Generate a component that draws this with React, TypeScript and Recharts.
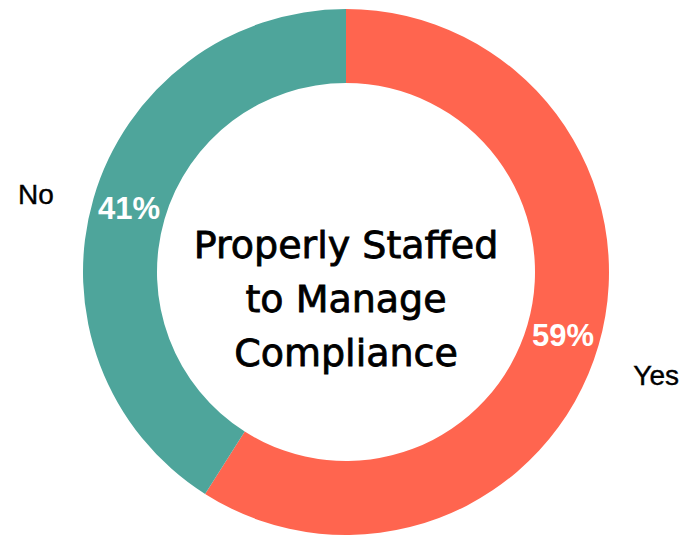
import React from 'react';
import { PieChart, Pie, Cell, Label } from 'recharts';

const categories = ['Yes', 'No'];
const shares = [59, 41];
const colors = ['#FF654F', '#4EA59B'];
const centerLines = ['Properly Staffed', 'to Manage', 'Compliance'];

const data = categories.map((name, i) => ({ name, value: shares[i] }));

const CX = 346;
const CY = 272;
const RAD = Math.PI / 180;

// percentage inside the ring, category name outside
const renderLabel = (props: any) => {
  const { cx, cy, midAngle, innerRadius, outerRadius, name, value } = props;
  const mid = (innerRadius + outerRadius) / 2;
  const px = cx + mid * Math.cos(-midAngle * RAD);
  const py = cy + mid * Math.sin(-midAngle * RAD);
  const far = outerRadius + 60;
  const nx = cx + far * Math.cos(-midAngle * RAD);
  const ny = cy + far * Math.sin(-midAngle * RAD) + 13;
  return (
    <g>
      <text x={px} y={py} fill="#fff" textAnchor="middle" dominantBaseline="central"
        fontFamily="Liberation Sans" fontWeight="bold" fontSize={31}>
        {value}%
      </text>
      <text x={nx} y={ny} fill="#000" stroke="#000" strokeWidth={0.4} textAnchor="middle"
        dominantBaseline="central" fontFamily="Liberation Sans" fontSize={28}>
        {name}
      </text>
    </g>
  );
};

// title in the hole, a little heavier than regular weight
const CenterText = () => (
  <text x={CX} y={CY} textAnchor="middle" fontFamily="DejaVu Sans" fontSize={38}
    fill="#000" stroke="#000" strokeWidth={0.8}>
    {centerLines.map((line, i) => (
      <tspan key={line} x={CX} y={CY - 14 + i * 54}>{line}</tspan>
    ))}
  </text>
);

export default function App() {
  return (
    <div style={{ position: 'absolute', left: 0, top: 0, background: '#fff' }}>
      <PieChart width={688} height={537} margin={{ top: 0, right: 0, bottom: 0, left: 0 }}>
        <Pie
          data={data}
          dataKey="value"
          nameKey="name"
          cx={CX}
          cy={CY}
          innerRadius={189}
          outerRadius={263}
          startAngle={90}
          endAngle={-270}
          stroke="none"
          label={renderLabel}
          labelLine={false}
          isAnimationActive={false}
        >
          {data.map((d, i) => (
            <Cell key={d.name} fill={colors[i]} />
          ))}
          <Label position="center" content={CenterText} />
        </Pie>
      </PieChart>
    </div>
  );
}
